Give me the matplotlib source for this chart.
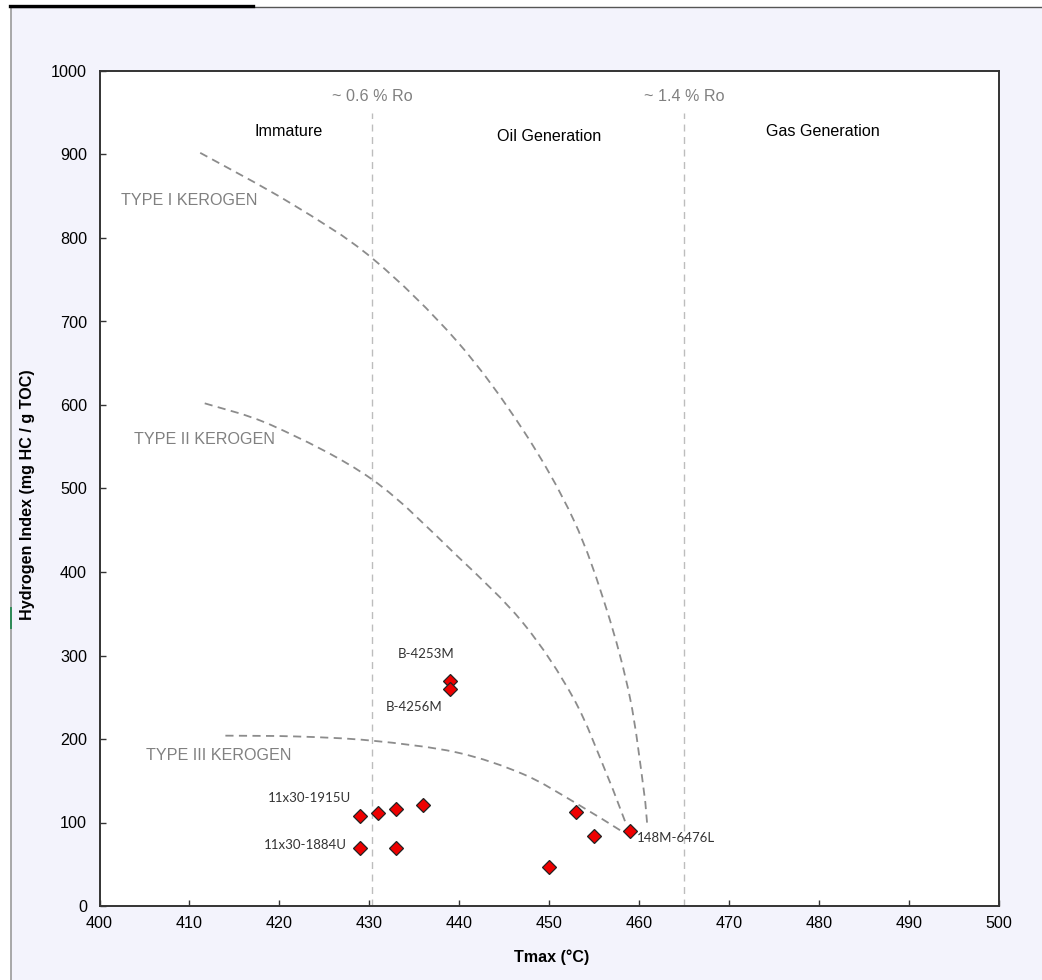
import matplotlib
matplotlib.use("Agg")
import matplotlib.pyplot as plt
from matplotlib.lines import Line2D
from matplotlib.patches import Rectangle, PathPatch
from matplotlib.path import Path

# Rock-Eval samples: Tmax (°C) vs Hydrogen Index (mg HC / g TOC)
tmax = [429, 431, 433, 436, 439, 439, 429, 433, 450, 453, 455, 459]
hi = [108, 111, 116, 121, 269, 260, 69, 69, 47, 113, 84, 90]

# Sample labels and where they sit
sample_labels = ["B-4253M", "B-4256M", "11x30-1915U", "11x30-1884U", "148M-6476L"]
label_x = [436.3, 435.0, 423.3, 422.9, 459.8]
label_y = [302, 238, 129, 73, 81]
label_ha = ["center", "center", "center", "center", "left"]

# Kerogen type evolution paths
type1_t = [411.2, 421.2, 430.3, 439.7, 447.1, 452.7, 456.4, 459.0, 460.5, 460.9]
type1_hi = [902, 842, 776, 677, 570, 463, 355, 249, 141, 99]
type2_t = [411.7, 419.3, 430.3, 439.7, 447.1, 452.7, 456.4, 458.6]
type2_hi = [602, 575, 511, 420, 339, 249, 158, 97]
type3_t = [414.0, 422.0, 430.3, 439.7, 447.1, 452.7, 458.3]
type3_hi = [204, 203, 198, 184, 158, 125, 88]

# Maturity boundaries (vitrinite reflectance equivalents)
ro_t = [430.3, 465.0]
ro_labels = ["~ 0.6 % Ro", "~ 1.4 % Ro"]

zone_labels = ["Immature", "Oil Generation", "Gas Generation"]
zone_x = [421.0, 450.0, 480.4]
zone_y = [928, 922, 928]

kerogen_labels = ["TYPE I KEROGEN", "TYPE II KEROGEN", "TYPE III KEROGEN"]
kerogen_x = [402.4, 403.8, 405.2]
kerogen_y = [845, 559, 180]


def smooth_path(xs, ys):
    """Smoothed line through the points (cubic Bezier segments, Catmull-Rom tangents)."""
    pts = list(zip(xs, ys))
    n = len(pts)
    verts = [pts[0]]
    codes = [Path.MOVETO]
    for i in range(n - 1):
        p0 = pts[i - 1] if i > 0 else pts[i]
        p1 = pts[i]
        p2 = pts[i + 1]
        p3 = pts[i + 2] if i + 2 < n else pts[i + 1]
        c1 = (p1[0] + (p2[0] - p0[0]) / 6, p1[1] + (p2[1] - p0[1]) / 6)
        c2 = (p2[0] - (p3[0] - p1[0]) / 6, p2[1] - (p3[1] - p1[1]) / 6)
        verts += [c1, c2, p2]
        codes += [Path.CURVE4, Path.CURVE4, Path.CURVE4]
    return Path(verts, codes)


W, H = 1042, 980
fig = plt.figure(figsize=(W / 100, H / 100), dpi=100, facecolor="white")

# Chart area background and frame
fig.add_artist(Rectangle((11 / W, 0), 1 - 11 / W, 1 - 8 / H, transform=fig.transFigure,
                         facecolor="#f3f3fc", edgecolor="none", zorder=0))
fig.add_artist(Line2D([10.5 / W, 10.5 / W], [0, 1 - 7 / H], transform=fig.transFigure,
                      color="#9a9a9a", lw=1.2))
fig.add_artist(Line2D([10 / W, 1], [1 - 7.5 / H, 1 - 7.5 / H], transform=fig.transFigure,
                      color="#555555", lw=1.0))
fig.add_artist(Line2D([10 / W, 253 / W], [1 - 6 / H, 1 - 6 / H], transform=fig.transFigure,
                      color="black", lw=2.4))
fig.add_artist(Line2D([10.5 / W, 10.5 / W], [1 - 628 / H, 1 - 608 / H], transform=fig.transFigure,
                      color="#2e8b57", lw=1.4))

ax = fig.add_axes([99.5 / W, 1 - 906 / H, (998.7 - 99.5) / W, (906 - 71) / H])
ax.set_facecolor("white")
ax.set_xlim(400, 500)
ax.set_ylim(0, 1000)

sans = "Liberation Sans"
fs = 11.6

for t, lab in zip(ro_t, ro_labels):
    ax.plot([t, t], [0, 950], color="#bdbdbd", lw=1.0, dashes=(5, 4), zorder=1)
    ax.text(t, 970, lab, color="#808080", fontsize=fs, family=sans, ha="center", va="center")

for zl, zx, zy in zip(zone_labels, zone_x, zone_y):
    ax.text(zx, zy, zl, color="black", fontsize=fs, family=sans, ha="center", va="center")

for kt, kh in ((type1_t, type1_hi), (type2_t, type2_hi), (type3_t, type3_hi)):
    ax.add_patch(PathPatch(smooth_path(kt, kh), facecolor="none", edgecolor="#8c8c8c",
                           lw=1.3, linestyle=(0, (4.5, 3)), zorder=2))

for kl, kx, ky in zip(kerogen_labels, kerogen_x, kerogen_y):
    ax.text(kx, ky, kl, color="#808080", fontsize=fs, family=sans, ha="left", va="center")

ax.plot(tmax, hi, linestyle="none", marker="D", markersize=7.5, markerfacecolor="#ee0000",
        markeredgecolor="#222222", markeredgewidth=0.9, zorder=4)

for lab, lx, ly, ha in zip(sample_labels, label_x, label_y, label_ha):
    ax.text(lx, ly, lab, color="#333333", fontsize=9.5, family="Lato", ha=ha, va="center")

ax.set_xticks(range(400, 501, 10))
ax.set_yticks(range(0, 1001, 100))
ax.tick_params(axis="both", direction="in", length=4, width=1.0, color="#333333",
               labelsize=fs, labelcolor="black")
ax.tick_params(axis="x", pad=7)
ax.tick_params(axis="y", pad=9)
for lbl in ax.get_xticklabels() + ax.get_yticklabels():
    lbl.set_family(sans)
for sp in ax.spines.values():
    sp.set_color("#333333")
    sp.set_linewidth(1.4)

ax.set_xlabel("Tmax (°C)", fontsize=fs, fontweight="bold", family=sans)
ax.set_ylabel("Hydrogen Index (mg HC / g TOC)", fontsize=fs, fontweight="bold", family=sans)
ax.yaxis.set_label_coords(-(99.5 - 28) / (998.7 - 99.5), (906 - 495) / (906 - 71))
ax.xaxis.set_label_coords(0.503, -(957 - 906) / (906 - 71))
ax.xaxis.label.set_va("center")
ax.yaxis.label.set_va("center")

fig.savefig("out.png", dpi=100, facecolor=fig.get_facecolor())
